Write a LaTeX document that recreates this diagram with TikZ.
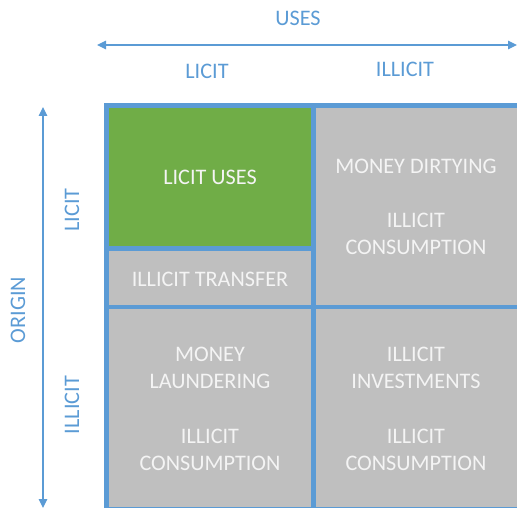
\documentclass[tikz,border=0pt]{standalone}
\usepackage{fontspec}
\setmainfont{Carlito}
\usetikzlibrary{arrows.meta}
\definecolor{bl}{HTML}{5B9BD5}
\definecolor{gr}{HTML}{70AD47}
\definecolor{gy}{HTML}{BFBFBF}
\definecolor{wt}{HTML}{F4F4F4}
\begin{document}
\begin{tikzpicture}[x=1pt,y=-1pt,
  cell/.style={draw=bl,line width=4.6pt,text=wt,align=center,font=\fontsize{22.2}{27}\selectfont,inner sep=0pt},
  lab/.style={text=bl,font=\fontsize{22.2}{27}\selectfont,inner sep=0pt},
  axis/.style={draw=bl,line width=1.2pt,{Triangle[length=9pt,width=8.5pt]}-{Triangle[length=9pt,width=8.5pt]}}]
\useasboundingbox (0,0) rectangle (517,508);
% cells
\path[fill=gy] (106.5,105.5) rectangle (522,511);
\node[cell,fill=gy,minimum width=206.5pt,minimum height=201.5pt] (tr) at (417,206.2) {};
\node[cell,fill=gy,minimum width=207pt,minimum height=202pt] (bl) at (210,408) {};
\node[cell,fill=gy,minimum width=206.5pt,minimum height=202pt] (br) at (417,408) {};
\node[cell,fill=gy,minimum width=207pt,minimum height=58.5pt] (tf) at (210,277.7) {};
\node[cell,fill=gr,minimum width=207pt,minimum height=143pt] (lu) at (210,177) {};
% texts
\node[cell,draw=none] (t1) at (210,177) {LICIT USES};
\node[cell,draw=none] (t2) at (210,279) {ILLICIT TRANSFER};
\node[cell,draw=none] (t3) at (416,166) {MONEY DIRTYING};
\node[cell,draw=none] (t4) at (416,234) {ILLICIT\\CONSUMPTION};
\node[cell,draw=none] (t5) at (210,367.5) {MONEY\\LAUNDERING};
\node[cell,draw=none] (t6) at (210,449.5) {ILLICIT\\CONSUMPTION};
\node[cell,draw=none] (t7) at (416,367.5) {ILLICIT\\INVESTMENTS};
\node[cell,draw=none] (t8) at (416,449.5) {ILLICIT\\CONSUMPTION};
% axes
\coordinate (hl) at (97,45);
\coordinate (hr) at (517,45);
\coordinate (vt) at (43,107);
\coordinate (vb) at (43,508);
\draw[axis] (hl) -- (hr);
\draw[axis] (vt) -- (vb);
\node[lab] (uses) at (298,18) {USES};
\node[lab] (cl) at (207,71) {LICIT};
\node[lab] (ci) at (405,69) {ILLICIT};
\node[lab,rotate=90] (origin) at (18,310) {ORIGIN};
\node[lab,rotate=90] (rl) at (72,210) {LICIT};
\node[lab,rotate=90] (ri) at (72,405) {ILLICIT};
\end{tikzpicture}
\end{document}
